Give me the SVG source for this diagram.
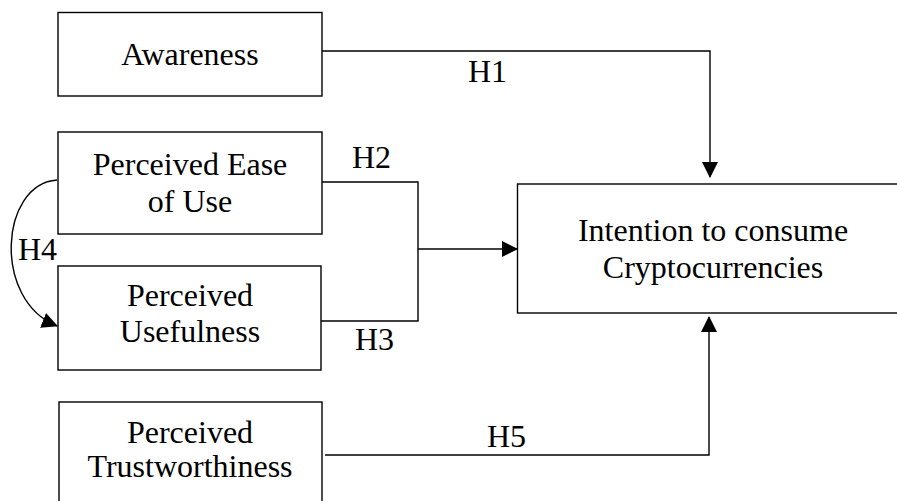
<svg xmlns="http://www.w3.org/2000/svg" width="897" height="501" viewBox="0 0 897 501">
<style>
.box{fill:#fff;stroke:#000;stroke-width:1.4}
.t{font-family:"Liberation Serif","Times New Roman",serif;font-size:32px;fill:#000;text-anchor:middle}
.lbl{font-family:"Liberation Serif","Times New Roman",serif;font-size:32px;fill:#000}
.c{fill:none;stroke:#000;stroke-width:1.4}
</style>
<defs>
<marker id="arr" viewBox="0 0 16 16" refX="15" refY="8" markerWidth="16" markerHeight="16" markerUnits="userSpaceOnUse" orient="auto">
<path d="M0,0 L16,8 L0,16 Z" fill="#000"/>
</marker>
</defs>
<rect width="897" height="501" fill="#fff"/>
<g id="awareness">
<rect class="box" x="58" y="12.5" width="264" height="83.5"/>
<text class="t" x="190" y="65">Awareness</text>
</g>
<g id="peou">
<rect class="box" x="58" y="132" width="264" height="102"/>
<text class="t" x="190" y="175">Perceived Ease</text>
<text class="t" x="190" y="212">of Use</text>
</g>
<g id="pu">
<rect class="box" x="58" y="266" width="263" height="104"/>
<text class="t" x="190" y="306">Perceived</text>
<text class="t" x="190" y="342">Usefulness</text>
</g>
<g id="pt">
<rect class="box" x="59" y="402" width="263" height="110"/>
<text class="t" x="190" y="443">Perceived</text>
<text class="t" x="190" y="477">Trustworthiness</text>
</g>
<g id="intention">
<rect class="box" x="517.5" y="184" width="400" height="129"/>
<text class="t" x="713" y="241">Intention to consume</text>
<text class="t" x="713" y="278">Cryptocurrencies</text>
</g>
<g id="connectors">
<path class="c" d="M322,51 H710 V177" marker-end="url(#arr)"/>
<path class="c" d="M322,182 H418 V321 H321"/>
<path class="c" d="M418,249 H517" marker-end="url(#arr)"/>
<path class="c" d="M325,455 H709 V317" marker-end="url(#arr)"/>
<path class="c" d="M57,180 C0,184 -8,300 57,326" marker-end="url(#arr)"/>
<text class="lbl" x="468" y="82">H1</text>
<text class="lbl" x="352" y="168">H2</text>
<text class="lbl" x="355" y="350">H3</text>
<text class="lbl" x="18" y="260">H4</text>
<text class="lbl" x="487" y="447">H5</text>
</g>
</svg>
